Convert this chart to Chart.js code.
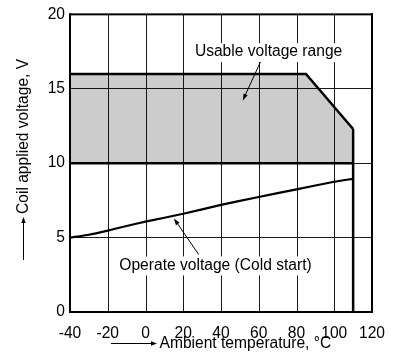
<!DOCTYPE html>
<html>
<head>
<meta charset="utf-8">
<script src="https://cdn.jsdelivr.net/npm/chart.js@4.4.1/dist/chart.umd.min.js"></script>
<style>
  html, body { margin:0; padding:0; background:#fff; }
</style>
</head>
<body>
<canvas id="chart" width="394" height="358"></canvas>
<script>
/* ================= DATA ================= */
const usableTemp  = [-40, 85, 110];
const usableMax   = [16, 16, 12.3];
const usableMin   = 10;
const limitTemp   = 110;
const operateTemp = [-40, -30, -20, -10, 0, 20, 40, 60, 80, 100, 110];
const operateVolt = [5.0, 5.19, 5.47, 5.78, 6.07, 6.6, 7.2, 7.73, 8.24, 8.75, 8.95];
const xTickRange  = [-40, 120, 20];
const yTickRange  = [0, 20, 5];

// callouts, in data units
const notes = [
  { text: "Usable voltage range",         x: 65.2, y: 17.46, from: [60.9, 16.8], to: [51.5, 14.2] },
  { text: "Operate voltage (Cold start)", x: 37.1, y: 3.13,  from: [28.2, 3.86], to: [15.0, 6.3] }
];

/* ================= STYLE ================= */
const FONT = '"Liberation Sans", Arial, Helvetica, sans-serif';
const FSIZE = 15.6;
const pts = (xs, ys) => xs.map((x, i) => ({ x, y: ys[i] }));

function arrow(ctx, x1, y1, x2, y2, head, half){
  const a = Math.atan2(y2 - y1, x2 - x1);
  const c = Math.cos(a), s = Math.sin(a);
  ctx.beginPath();
  ctx.moveTo(x1, y1);
  ctx.lineTo(x2 - c*head*0.7, y2 - s*head*0.7);
  ctx.stroke();
  ctx.beginPath();
  ctx.moveTo(x2, y2);
  ctx.lineTo(x2 - c*head + s*half, y2 - s*head - c*half);
  ctx.lineTo(x2 - c*head - s*half, y2 - s*head + c*half);
  ctx.closePath();
  ctx.fill();
}

/* ================= PLUGIN: x grid, frame, callouts, axis titles ================= */
const extras = {
  id: "extras",
  // vertical grid at the x ticks, as 1px filled strips between the y limits
  beforeDatasetsDraw(chart){
    const ctx = chart.ctx, xs = chart.scales.x, ys = chart.scales.y;
    const top = ys.getPixelForValue(yTickRange[1]);
    const bottom = ys.getPixelForValue(yTickRange[0]);
    ctx.save();
    ctx.fillStyle = "#1a1a1a";
    xs.ticks.forEach(t => {
      const px = Math.round(xs.getPixelForValue(t.value));
      ctx.fillRect(px, top, 1, bottom - top);
    });
    ctx.restore();
  },
  afterDraw(chart){
    const ctx = chart.ctx, xs = chart.scales.x, ys = chart.scales.y;
    const a = chart.chartArea;
    ctx.save();

    // outer frame of the plot
    ctx.fillStyle = "#000";
    ctx.fillRect(a.left - 1, a.top - 1, a.right - a.left + 2, 2);
    ctx.fillRect(a.left - 1, a.bottom - 1, a.right - a.left + 2, 2);
    ctx.fillRect(a.left - 1, a.top - 1, 2, a.bottom - a.top + 2);
    ctx.fillRect(a.right - 1, a.top - 1, 2, a.bottom - a.top + 2);

    ctx.font = FSIZE + "px " + FONT;
    ctx.strokeStyle = "#000";
    ctx.lineWidth = 1;

    notes.forEach(n => {
      const cx = xs.getPixelForValue(n.x), cy = ys.getPixelForValue(n.y);
      const w = ctx.measureText(n.text).width;
      ctx.fillStyle = "#fff";
      ctx.fillRect(cx - w/2 - 10, cy - 9, w + 20, 19);
      ctx.fillStyle = "#000";
      ctx.textAlign = "center";
      ctx.textBaseline = "middle";
      ctx.fillText(n.text, cx, cy);
      arrow(ctx,
        xs.getPixelForValue(n.from[0]), ys.getPixelForValue(n.from[1]),
        xs.getPixelForValue(n.to[0]),   ys.getPixelForValue(n.to[1]), 7, 2.2);
    });

    // x title
    const ty = 343.5;
    arrow(ctx, 111, ty, 157, ty, 6, 2.2);
    ctx.textAlign = "left";
    ctx.textBaseline = "middle";
    ctx.fillText("Ambient temperature, °C", 159.5, ty);

    // y title
    const tx = 23.5;
    arrow(ctx, tx, 260, tx, 217, 6, 2.2);
    ctx.translate(tx + 0.5, 214);
    ctx.rotate(-Math.PI/2);
    ctx.fillText("Coil applied voltage, V", 0, 0);
    ctx.restore();
  }
};

/* ================= CHART ================= */
new Chart(document.getElementById("chart"), {
  type: "line",
  data: {
    datasets: [
      {
        data: pts(usableTemp, usableMax),
        borderColor: "#000", borderWidth: 2.5,
        backgroundColor: "rgba(0,0,0,0.2)",   // see-through so the grid shows
        fill: { value: usableMin },
        pointRadius: 0, tension: 0
      },
      {
        data: pts([usableTemp[0], limitTemp], [usableMin, usableMin]),
        borderColor: "#000", borderWidth: 2.5,
        fill: false, pointRadius: 0
      },
      {
        data: pts([limitTemp, limitTemp], [usableMax[usableMax.length - 1], 0]),
        borderColor: "#000", borderWidth: 2.5,
        fill: false, pointRadius: 0
      },
      {
        data: pts(operateTemp, operateVolt),
        borderColor: "#000", borderWidth: 2.2,
        fill: false, pointRadius: 0, tension: 0.2
      }
    ]
  },
  options: {
    responsive: false,
    animation: false,
    layout: { padding: { top: 10, right: 22, left: 0, bottom: 0 } },
    plugins: { legend: { display: false }, tooltip: { enabled: false } },
    scales: {
      x: {
        type: "linear",
        min: xTickRange[0], max: xTickRange[1],
        ticks: { stepSize: xTickRange[2], color: "#000", padding: 4, maxRotation: 0,
                 font: { family: FONT, size: FSIZE } },
        grid: { display: false },
        border: { display: false },
        afterFit: s => { s.height = 46; }
      },
      y: {
        min: yTickRange[0], max: yTickRange[1],
        ticks: { stepSize: yTickRange[2], color: "#000", padding: 5,
                 font: { family: FONT, size: FSIZE } },
        grid: { color: "#1a1a1a", drawTicks: false },
        border: { display: false },
        afterFit: s => { s.width = 70; }
      }
    }
  },
  plugins: [extras]
});
</script>
</body>
</html>
